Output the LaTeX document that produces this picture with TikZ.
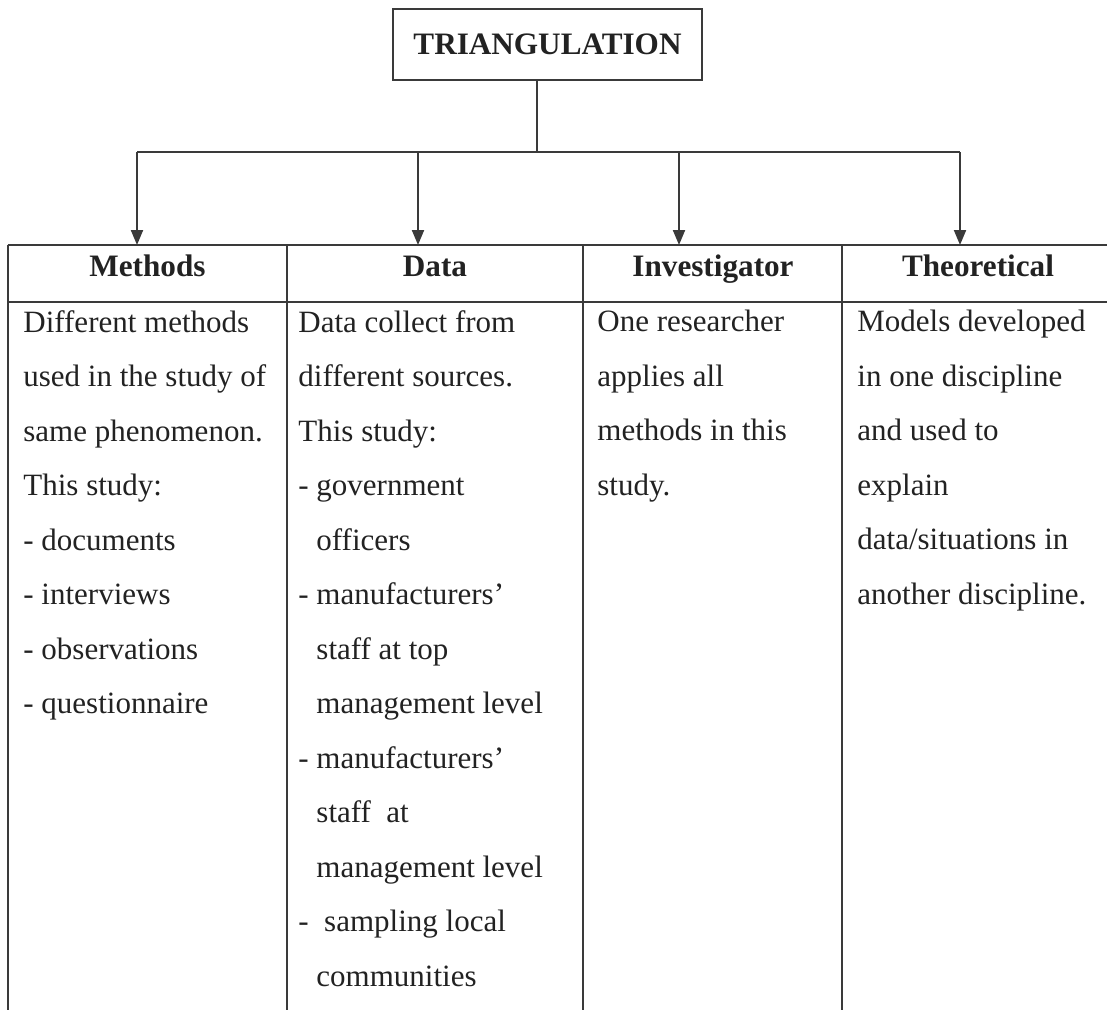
\documentclass[tikz,border=0pt]{standalone}
\usepackage{fontspec}
\setmainfont{Liberation Serif}
\usetikzlibrary{arrows.meta}
\definecolor{ink}{HTML}{222222}
\definecolor{rulegray}{HTML}{3A3A3A}
\begin{document}
\begin{tikzpicture}[x=0.5pt,y=-0.5pt,
  rulel/.style={draw=rulegray,line width=1pt},
  feed/.style={rulel,-{Triangle[width=6pt,length=7.5pt]}},
  titlebox/.style={draw=rulegray,line width=1pt,minimum width=154.5pt,minimum height=35.5pt,
    inner sep=0pt,font=\fontsize{15.6}{18}\selectfont\bfseries,text=ink},
  head/.style={font=\fontsize{15.6}{18}\selectfont\bfseries,text=ink,anchor=base,inner sep=0pt},
  cell/.style={font=\fontsize{15.5}{27.25}\selectfont,text=ink,align=left,anchor=north west,inner sep=0pt},
]
\useasboundingbox (0,0) rectangle (1107,1009);

% title and distribution bus
\node[titlebox] (title) at (547.5,44.5) {TRIANGULATION};
\coordinate (bus) at (537,152);
\coordinate (a1) at (137,152);
\coordinate (a2) at (418,152);
\coordinate (a3) at (679,152);
\coordinate (a4) at (960,152);
\coordinate (top) at (7.5,245);

\draw[rulel] (title.south -| bus) -- (bus);
\draw[rulel] (a1) -- (a4);
\foreach \k in {1,...,4}{
  \draw[feed] (a\k) -- (a\k |- top);
}

% table grid
\draw[rulel] (7.5,245) -- (1130,245);
\draw[rulel] (7.5,302) -- (1130,302);
\foreach \xx in {7.5,287,583,842,1114}{
  \draw[rulel] (\xx,245) -- (\xx,1030);
}

% column headings
\node[head] (hm) at (147.5,276) {Methods};
\node[head] (hd) at (435,276) {Data};
\node[head] (hi) at (713,276) {Investigator};
\node[head] (ht) at (978,276) {Theoretical};

% column bodies
\node[cell] (bm) at (23,310) {Different methods\\used in the study of\\same phenomenon.\\This study:\\- documents\\- interviews\\- observations\\- questionnaire};
\node[cell] (bd) at (298,310) {Data collect from\\different sources.\\This study:\\- government\\\phantom{- }officers\\- manufacturers’\\\phantom{- }staff at top\\\phantom{- }management level\\- manufacturers’\\\phantom{- }staff\ \ at\\\phantom{- }management level\\-\ \ sampling local\\\phantom{- }communities};
\node[cell] (bi) at (597,310) {One researcher\\applies all\\methods in this\\study.};
\node[cell] (bt) at (857,310) {Models developed\\in one discipline\\and used to\\explain\\data/situations in\\another discipline.};
\end{tikzpicture}
\end{document}
